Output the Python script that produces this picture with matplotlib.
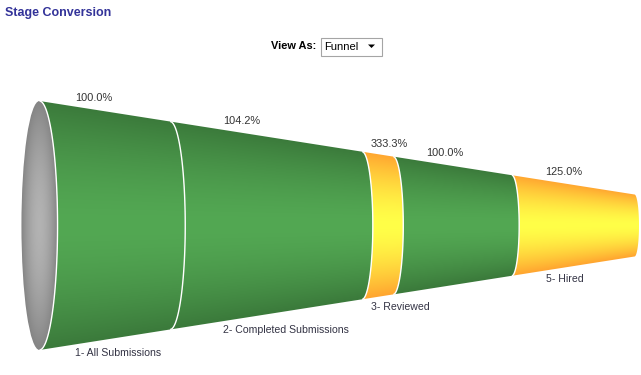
import numpy as np
import matplotlib.pyplot as plt
from matplotlib.path import Path
from matplotlib.patches import PathPatch, Ellipse, Rectangle, Polygon

stages = ['1- All Submissions', '2- Completed Submissions', '3- Reviewed', '', '5- Hired']
stage_size = [130, 191, 31, 118, 122]
conversion = ['100.0%', '104.2%', '333.3%', '100.0%', '125.0%']
stage_color = ['green', 'green', 'yellow', 'green', 'yellow']

# (edge colour, centre colour) for the cylinder shading
shades = {'green': ((0x3b, 0x7a, 0x3b), (0x53, 0xa8, 0x53)),
          'yellow': ((0xff, 0xa6, 0x30), (0xff, 0xff, 0x48))}

W, H = 641, 375
fig = plt.figure(figsize=(W / 100, H / 100), dpi=100)

# funnel axes: x in stage units, y in pixels from the funnel axis
x_left, x_right = 39.5, 634.5
cy = 225.5
r0, r1 = 124.5, 31.0
total = sum(stage_size)
px = (x_right - x_left) / total
ax = fig.add_axes([0, 0, 1, 1])
ax.set_xlim(-x_left / px, (W - x_left) / px)
ax.set_ylim(cy - H, cy)
ax.axis('off')


def radius(x):
    return r0 + (r1 - r0) * x / total


def bulge(x):
    return 0.145 * radius(x) / px


def arc(x, down=True, n=60):
    th = np.linspace(np.pi / 2, -np.pi / 2, n)
    if not down:
        th = th[::-1]
    return np.column_stack([x + bulge(x) * np.cos(th), radius(x) * np.sin(th)])


# shaded images, one per colour
xs = np.linspace(-25, total + 10, 900)
ys = np.linspace(-130, 130, 520)
X, Y = np.meshgrid(xs, ys)
T = np.clip(np.abs(Y / radius(X)), 0, 1)
wgt = (1 - T ** 1.6)[..., None]
images = {}
for name, (edge, centre) in shades.items():
    e = np.array(edge) / 255.0
    c = np.array(centre) / 255.0
    images[name] = e + (c - e) * wgt

bounds = np.concatenate([[0], np.cumsum(stage_size)])
for i in range(len(stage_size)):
    x0, x1 = bounds[i], bounds[i + 1]
    pts = np.vstack([[[x0, radius(x0)], [x1, radius(x1)]],
                     arc(x1, down=True),
                     [[x0, -radius(x0)]],
                     arc(x0, down=False)])
    patch = PathPatch(Path(pts, closed=False), facecolor='none', edgecolor='none')
    ax.add_patch(patch)
    im = ax.imshow(images[stage_color[i]], extent=[xs[0], xs[-1], ys[0], ys[-1]],
                   origin='lower', aspect='auto', interpolation='bilinear', zorder=1)
    im.set_clip_path(patch)

# grey mouth of the funnel
mouth = Ellipse((0, 0), 2 * bulge(0), 2 * r0, facecolor='none', edgecolor='none')
ax.add_patch(mouth)
D = np.sqrt((X / bulge(0)) ** 2 + (Y / r0) ** 2)
g = np.clip(0.70 - 0.18 * D ** 1.8, 0, 1)
grey = np.dstack([g, g, g])
im = ax.imshow(grey, extent=[xs[0], xs[-1], ys[0], ys[-1]], origin='lower',
               aspect='auto', interpolation='bilinear', zorder=2)
im.set_clip_path(mouth)

# white seams between stages
for xb in bounds[:-1]:
    a = arc(xb)
    ax.plot(a[:, 0], a[:, 1], color='white', lw=1, zorder=3, solid_capstyle='butt')

# labels
for i in range(len(stage_size)):
    xl = bounds[i] + 0.275 * stage_size[i]
    ax.text(xl, radius(xl) + 4, conversion[i], ha='left', va='bottom',
            fontsize=7.9, family='Liberation Sans', color='#333333')
    if stages[i]:
        ax.text(xl, -radius(xl) - 4, stages[i], ha='left', va='top',
                fontsize=7.6, family='Liberation Sans', color='#333344')

# header widgets, in pixel units
ui = fig.add_axes([0, 0, 1, 1])
ui.set_xlim(0, W)
ui.set_ylim(H, 0)
ui.axis('off')
ui.patch.set_alpha(0)
ui.text(5, 13, 'Stage Conversion', fontsize=9, fontweight='bold',
        color='#333399', va='center', ha='left', family='Liberation Sans')
ui.text(316, 46, 'View As:', fontsize=7.9, fontweight='bold', color='black',
        va='center', ha='right', family='Liberation Sans')
ui.add_patch(Rectangle((320.5, 37.5), 61, 18, facecolor='white', edgecolor='#a5a5a5', lw=0.8))
ui.text(324, 46.5, 'Funnel', fontsize=8, color='black', va='center', ha='left',
        family='Liberation Sans')
ui.add_patch(Polygon([[368, 44.5], [375, 44.5], [371.5, 48]], closed=True,
                     facecolor='black', edgecolor='none'))

fig.savefig('out.png', dpi=100)
